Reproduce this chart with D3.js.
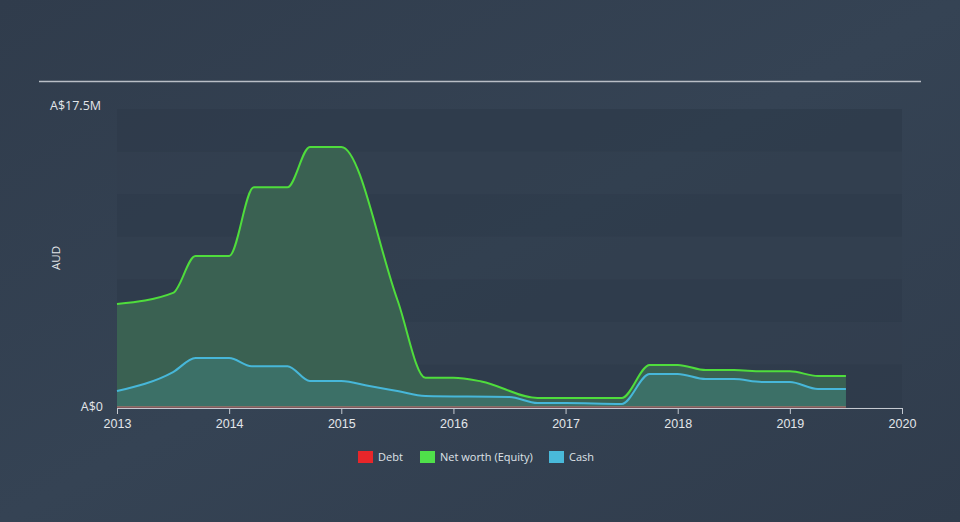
<!DOCTYPE html>
<html><head><meta charset="utf-8">
<script src="https://cdn.jsdelivr.net/npm/d3@7"></script>
<style>
html,body{margin:0;padding:0;background:#333f50;}
svg{display:block;font-family:"Open Sans","DejaVu Sans",sans-serif;}
</style></head>
<body><svg id="c" width="960" height="522"></svg>
<script>
const equityDates = [2013.0, 2013.5, 2013.7, 2014.0, 2014.22, 2014.52, 2014.72, 2015.0, 2015.5, 2015.75, 2016.0, 2016.25, 2016.75, 2017.5, 2017.75, 2018.0, 2018.25, 2018.5, 2018.75, 2019.0, 2019.25, 2019.5];
const equityValues = [6.05, 6.7, 8.87, 8.87, 12.9, 12.9, 15.27, 15.27, 6.3, 1.72, 1.72, 1.5, 0.53, 0.53, 2.47, 2.47, 2.17, 2.17, 2.1, 2.1, 1.82, 1.82];
const cashDates = [2013.0, 2013.5, 2013.7, 2014.0, 2014.2, 2014.52, 2014.72, 2015.0, 2015.25, 2015.5, 2015.75, 2016.5, 2016.75, 2017.0, 2017.5, 2017.75, 2018.0, 2018.25, 2018.5, 2018.75, 2019.0, 2019.25, 2019.5];
const cashValues = [0.94, 2.05, 2.88, 2.88, 2.4, 2.4, 1.53, 1.53, 1.23, 0.94, 0.65, 0.59, 0.23, 0.23, 0.18, 1.94, 1.94, 1.64, 1.64, 1.47, 1.47, 1.06, 1.06];
const debtDates = [2013.0, 2019.5];
const debtValues = [0, 0];
const xTicks = [2013, 2014, 2015, 2016, 2017, 2018, 2019, 2020];
const yTickLabels = ["A$0", "A$17.5M"];
const legendNames = ["Debt", "Net worth (Equity)", "Cash"];
const legendColors = ["#e8262a", "#4fe04a", "#49b9da"];

const svg = d3.select("#c");
const W = 960, H = 522;
const m = {l:117, r:58, t:109, b:115};
const x = d3.scaleLinear().domain([2013, 2020]).range([m.l, W - m.r]);
const y = d3.scaleLinear().domain([0, 17.5]).range([H - m.b, m.t]);

const defs = svg.append("defs");
const g0 = defs.append("linearGradient").attr("id","bg").attr("x1",0).attr("y1",0).attr("x2",1).attr("y2",1);
g0.append("stop").attr("offset","0%").attr("stop-color","#303c4c");
g0.append("stop").attr("offset","50%").attr("stop-color","#354354");
g0.append("stop").attr("offset","100%").attr("stop-color","#303c4c");
svg.append("rect").attr("width",W).attr("height",H).attr("fill","url(#bg)");

svg.append("line").attr("x1",39).attr("x2",921).attr("y1",81.5).attr("y2",81.5)
  .attr("stroke","#b9bec6").attr("stroke-width",1.5);

const bandEdges = d3.range(0, 17.5, 2.5);
svg.append("g").selectAll("rect").data(bandEdges).join("rect")
  .attr("x", x(2013)).attr("width", x(2020) - x(2013))
  .attr("y", d => y(d + 2.5)).attr("height", d => y(d) - y(d + 2.5))
  .attr("fill", (d,i) => i % 2 === 0 ? "#2e3a4a" : "#323e4f")
  .attr("opacity", 0.7);

const curve = d3.curveMonotoneX;
const eq = equityDates.map((d,i)=>[d, equityValues[i]]);
const ca = cashDates.map((d,i)=>[d, cashValues[i]]);
const de = debtDates.map((d,i)=>[d, debtValues[i]]);
const area = d3.area().x(d=>x(d[0])).y0(y(0)).y1(d=>y(d[1])).curve(curve);
const line = d3.line().x(d=>x(d[0])).y(d=>y(d[1])).curve(curve);

svg.append("path").datum(eq).attr("d", area).attr("fill","#3b6352").attr("opacity",0.95);
svg.append("path").datum(ca).attr("d", area).attr("fill","#3c7168").attr("opacity",0.95);
svg.append("path").datum(eq).attr("d", line).attr("fill","none").attr("stroke","#4fdd3c").attr("stroke-width",2);
svg.append("path").datum(ca).attr("d", line).attr("fill","none").attr("stroke","#47b7d9").attr("stroke-width",2);
svg.append("path").datum(de).attr("d", line).attr("fill","none").attr("stroke","#d0706a").attr("stroke-width",1.2);

const xa = svg.append("g").attr("transform",`translate(0,${y(0)+1})`)
  .call(d3.axisBottom(x).tickValues(xTicks).tickFormat(d3.format("d")).tickSize(6).tickSizeOuter(0));
xa.select(".domain").attr("stroke","#c4c9d0");
xa.selectAll(".tick line").attr("stroke","#c4c9d0");
xa.selectAll(".tick text").attr("fill","#e3e6ea").attr("font-size",12.5).attr("dy","0.9em");

svg.append("text").attr("x",103).attr("y",y(0)).attr("dy","0.35em").attr("text-anchor","end")
  .attr("fill","#e3e6ea").attr("font-size",12.5).text(yTickLabels[0]);
svg.append("text").attr("x",50).attr("y",y(17.5)).attr("dy","0.05em").attr("text-anchor","start")
  .attr("fill","#e3e6ea").attr("font-size",12.5).text(yTickLabels[1]);
svg.append("text").attr("transform","translate(60,258) rotate(-90)").attr("text-anchor","middle")
  .attr("fill","#e3e6ea").attr("font-size",11.5).text("AUD");

const lx = [358, 420, 549];
const lg = svg.append("g");
legendNames.forEach((n,i)=>{
  lg.append("rect").attr("x",lx[i]).attr("y",451).attr("width",15).attr("height",12).attr("fill",legendColors[i]);
  lg.append("text").attr("x",lx[i]+20).attr("y",457).attr("dy","0.35em").attr("fill","#dfe3e8")
    .attr("font-size",11).text(n);
});
</script></body></html>
